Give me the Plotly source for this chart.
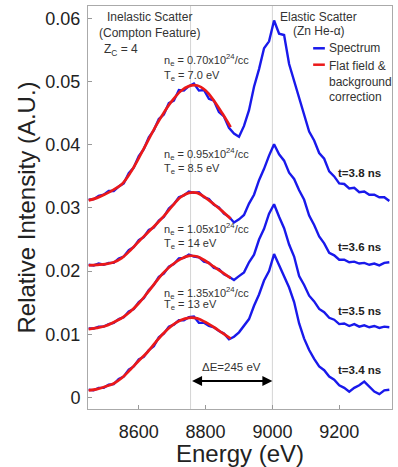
import plotly.graph_objects as go

# ---------------- data ----------------
energy = [8450, 8465, 8480, 8495, 8510, 8525, 8540, 8555, 8570, 8585,
          8600, 8615, 8630, 8645, 8660, 8675, 8690, 8705, 8720, 8735,
          8750, 8765, 8780, 8795, 8810, 8825, 8840, 8855, 8870, 8885,
          8900, 8915, 8930, 8945, 8960, 8975, 8990, 9005, 9020, 9035,
          9050, 9065, 9080, 9095, 9110, 9125, 9140, 9155, 9170, 9185,
          9200, 9215, 9230, 9245, 9260, 9275, 9290, 9305, 9320, 9335, 9350]

spec_t38 = [0.0313, 0.0314, 0.0319, 0.0321, 0.0327, 0.0327, 0.0334, 0.0339, 0.0355, 0.0364,
            0.0382, 0.0393, 0.0412, 0.0423, 0.0441, 0.0448, 0.0466, 0.0470, 0.0487, 0.0486,
            0.0493, 0.0497, 0.0486, 0.0487, 0.0473, 0.0470, 0.0452, 0.0445, 0.0427, 0.0418,
            0.0413, 0.0430, 0.0455, 0.0492, 0.0520, 0.0553, 0.0564, 0.0597, 0.0576, 0.0574,
            0.0528, 0.0502, 0.0472, 0.0450, 0.0421, 0.0407, 0.0387, 0.0378, 0.0358, 0.0350,
            0.0339, 0.0338, 0.0331, 0.0332, 0.0325, 0.0326, 0.0321, 0.0321, 0.0317, 0.0317, 0.0311]

spec_t36 = [0.0210, 0.0209, 0.0212, 0.0210, 0.0213, 0.0213, 0.0220, 0.0223, 0.0233, 0.0238,
            0.0249, 0.0254, 0.0265, 0.0269, 0.0280, 0.0286, 0.0299, 0.0306, 0.0317, 0.0320,
            0.0326, 0.0324, 0.0325, 0.0317, 0.0314, 0.0305, 0.0301, 0.0291, 0.0286, 0.0277,
            0.0282, 0.0289, 0.0307, 0.0321, 0.0344, 0.0362, 0.0383, 0.0401, 0.0385, 0.0375,
            0.0356, 0.0346, 0.0328, 0.0313, 0.0288, 0.0273, 0.0255, 0.0244, 0.0229, 0.0225,
            0.0218, 0.0218, 0.0214, 0.0215, 0.0212, 0.0213, 0.0210, 0.0212, 0.0209, 0.0213, 0.0214]

spec_t35 = [0.0109, 0.0109, 0.0112, 0.0112, 0.0116, 0.0118, 0.0124, 0.0127, 0.0136, 0.0140,
            0.0151, 0.0157, 0.0170, 0.0178, 0.0191, 0.0196, 0.0207, 0.0211, 0.0220, 0.0221,
            0.0226, 0.0223, 0.0222, 0.0215, 0.0213, 0.0205, 0.0203, 0.0195, 0.0191, 0.0186,
            0.0192, 0.0198, 0.0214, 0.0226, 0.0250, 0.0267, 0.0291, 0.0306, 0.0286, 0.0268,
            0.0242, 0.0223, 0.0192, 0.0178, 0.0161, 0.0152, 0.0140, 0.0135, 0.0126, 0.0123,
            0.0116, 0.0117, 0.0113, 0.0116, 0.0112, 0.0114, 0.0111, 0.0113, 0.0110, 0.0112, 0.0111]

spec_t34 = [0.0012, 0.0011, 0.0015, 0.0015, 0.0020, 0.0021, 0.0029, 0.0033, 0.0044, 0.0049,
            0.0060, 0.0064, 0.0075, 0.0081, 0.0095, 0.0101, 0.0112, 0.0115, 0.0122, 0.0122,
            0.0127, 0.0128, 0.0118, 0.0118, 0.0113, 0.0111, 0.0105, 0.0101, 0.0092, 0.0096,
            0.0103, 0.0114, 0.0124, 0.0145, 0.0163, 0.0185, 0.0200, 0.0227, 0.0210, 0.0191,
            0.0174, 0.0151, 0.0117, 0.0093, 0.0075, 0.0061, 0.0049, 0.0043, 0.0033, 0.0028,
            0.0019, 0.0015, 0.0009, 0.0015, 0.0019, 0.0025, 0.0017, 0.0009, 0.0005, 0.0011, 0.0012]

fit_energy = [8450, 8475, 8500, 8525, 8550, 8575, 8600, 8625, 8650,
              8675, 8700, 8725, 8750, 8775, 8800, 8825, 8850, 8875]

fit_t38 = [0.0312, 0.0316, 0.0322, 0.0329, 0.0338, 0.0356, 0.0379, 0.0404, 0.0429,
           0.0451, 0.0470, 0.0485, 0.0493, 0.0494, 0.0486, 0.0470, 0.0450, 0.0428]
fit_t36 = [0.0209, 0.0210, 0.0211, 0.0214, 0.0221, 0.0233, 0.0247, 0.0260, 0.0273,
           0.0287, 0.0303, 0.0317, 0.0324, 0.0324, 0.0316, 0.0306, 0.0295, 0.0283]
fit_t35 = [0.0108, 0.0110, 0.0113, 0.0119, 0.0126, 0.0136, 0.0149, 0.0165, 0.0182,
           0.0198, 0.0210, 0.0219, 0.0224, 0.0223, 0.0216, 0.0207, 0.0198, 0.0189]
fit_t34 = [0.0011, 0.0013, 0.0017, 0.0022, 0.0031, 0.0044, 0.0058, 0.0071, 0.0087,
           0.0102, 0.0114, 0.0122, 0.0126, 0.0125, 0.0119, 0.0111, 0.0102, 0.0093]

time_labels = ["t=3.8 ns", "t=3.6 ns", "t=3.5 ns", "t=3.4 ns"]
time_label_y = [0.0355, 0.0238, 0.0137, 0.0043]

ne_labels = ["0.70", "0.95", "1.05", "1.35"]
te_labels = ["7.0", "8.5", "14", "13"]
ne_label_y = [0.0535, 0.0385, 0.0266, 0.0166]
te_label_y = [0.0509, 0.0362, 0.0243, 0.0146]

compton_center = 8755
elastic_center = 9000

x_ticks = [8600, 8800, 9000, 9200]
y_ticks = [0, 0.01, 0.02, 0.03, 0.04, 0.05, 0.06]
y_tick_text = ["0", "0.01", "0.02", "0.03", "0.04", "0.05", "0.06"]

# ---------------- figure ----------------
BLUE = "rgb(25,25,235)"
RED = "rgb(235,25,25)"
FONT = "Liberation Sans, Arial, sans-serif"
TXT = "#333333"

fig = go.Figure()

for spec in [spec_t38, spec_t36, spec_t35, spec_t34]:
    fig.add_trace(go.Scatter(x=energy, y=spec, mode="lines",
                             line=dict(color=BLUE, width=2.4),
                             showlegend=False, hoverinfo="skip"))
for fit in [fit_t38, fit_t36, fit_t35, fit_t34]:
    fig.add_trace(go.Scatter(x=fit_energy, y=fit, mode="lines",
                             line=dict(color=RED, width=2.7, shape="spline"),
                             showlegend=False, hoverinfo="skip"))

# vertical reference lines
for xv in [compton_center, elastic_center]:
    fig.add_shape(type="line", xref="x", yref="paper", x0=xv, x1=xv, y0=0, y1=1,
                  line=dict(color="rgba(170,170,170,0.5)", width=1), layer="below")

annotations = []
def txt(x, y, s, size=12, xanchor="center", color=TXT, bold=False):
    if bold:
        s = "<b>" + s + "</b>"
    annotations.append(dict(x=x, y=y, xref="x", yref="y", text=s, showarrow=False,
                            xanchor=xanchor, yanchor="middle",
                            font=dict(family=FONT, size=size, color=color)))

txt(8633, 0.0603, "Inelastic Scatter")
txt(8633, 0.0578, "(Compton Feature)")
txt(8490, 0.0551, "Z<sub>C</sub> = 4", xanchor="left")
txt(9137, 0.0603, "Elastic Scatter")
txt(9140, 0.0580, "(Zn He-α)")

for ne, te, yn, yt in zip(ne_labels, te_labels, ne_label_y, te_label_y):
    txt(8670, yn, "n<sub>e</sub> = " + ne + "x10<sup>24</sup>/cc", size=11, xanchor="left")
    txt(8670, yt, "T<sub>e</sub> = " + te + " eV", size=11, xanchor="left")

for lab, yv in zip(time_labels, time_label_y):
    txt(9262, yv, lab, size=11.5, color="#222222", bold=True)

# legend (manual, to match the compact swatches)
fig.add_shape(type="line", xref="x", yref="y", x0=9122, x1=9157, y0=0.0553, y1=0.0553,
              line=dict(color=BLUE, width=2.5))
fig.add_shape(type="line", xref="x", yref="y", x0=9122, x1=9157, y0=0.0527, y1=0.0527,
              line=dict(color=RED, width=2.5))
txt(9164, 0.0553, "Spectrum", xanchor="left")
annotations.append(dict(x=9164, y=0.0539, xref="x", yref="y",
                        text="Flat field &<br>background<br>correction",
                        showarrow=False, xanchor="left", yanchor="top", align="left",
                        font=dict(family=FONT, size=12, color=TXT)))

# delta-E arrow
annotations.append(dict(x=elastic_center, y=0.0026, ax=compton_center, ay=0.0026,
                        xref="x", yref="y", axref="x", ayref="y", text="",
                        showarrow=True, arrowhead=2, arrowside="end+start",
                        arrowsize=1, arrowwidth=2, arrowcolor="black"))
txt(8878, 0.0048, "ΔE=245 eV", size=11.5)

fig.update_layout(
    width=398, height=467,
    margin=dict(l=88, r=5, t=5, b=47),
    paper_bgcolor="white", plot_bgcolor="white",
    font=dict(family=FONT, color="#222222"),
    annotations=annotations,
    showlegend=False,
)
fig.update_xaxes(range=[8448, 9358], tickvals=x_ticks, ticks="inside", ticklen=4,
                 tickcolor="#999999", showline=True, linecolor="#aaaaaa", linewidth=1,
                 mirror=True, showgrid=False, zeroline=False,
                 tickfont=dict(size=18, color="#222222"), ticklabelstandoff=6,
                 title=dict(text="Energy (eV)", font=dict(size=24, color="#222222"), standoff=4))
fig.update_yaxes(range=[-0.00185, 0.062], tickvals=y_ticks, ticktext=y_tick_text,
                 ticks="inside", ticklen=4, tickcolor="#999999", showline=True,
                 linecolor="#aaaaaa", linewidth=1, mirror=True, showgrid=False,
                 zeroline=False, tickfont=dict(size=18, color="#222222"),
                 ticklabelstandoff=3,
                 title=dict(text="Relative Intensity (A.U.)", font=dict(size=24, color="#222222"),
                            standoff=2))

fig.write_html("out.html")
